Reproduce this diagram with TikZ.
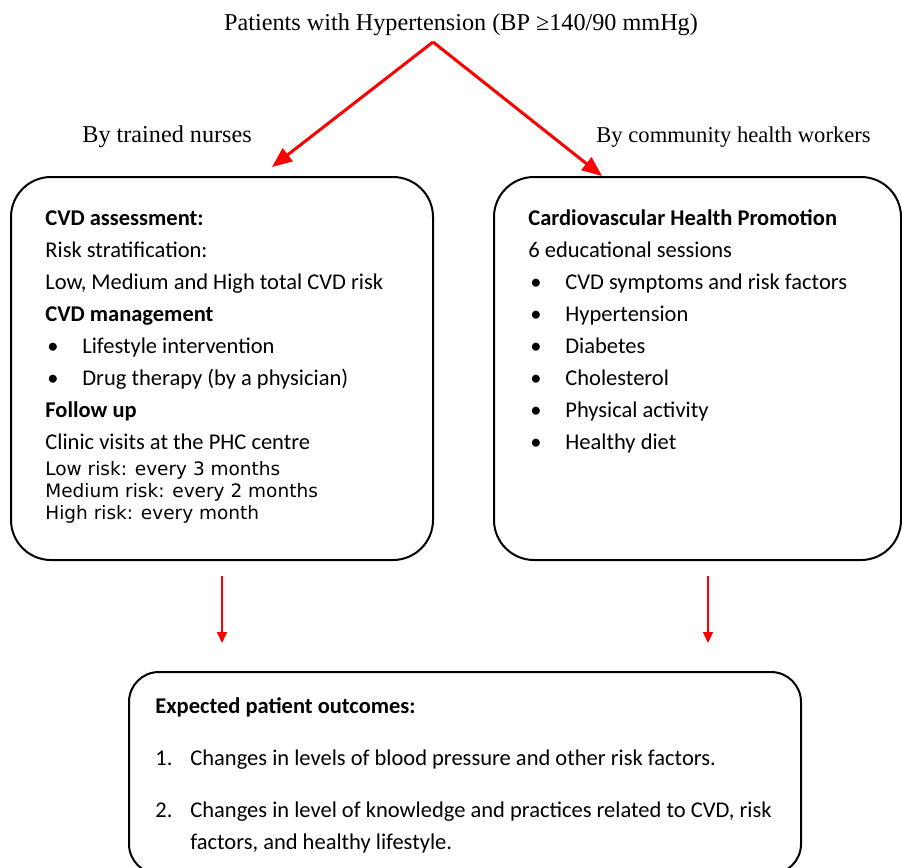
\documentclass[tikz,border=0pt]{standalone}
\usepackage{fontspec}
\setmainfont{Carlito}
\newfontfamily\serifface{Liberation Serif}
\newfontfamily\verdface{DejaVu Sans}
\usetikzlibrary{arrows.meta}
\newcommand\itemdot{\makebox[18.5pt][l]{\hspace{1pt}\textbullet}}
\newcommand\itemnum[1]{\makebox[17.5pt][l]{#1}}
\begin{document}
\begin{tikzpicture}[
  x=0.5pt,y=-0.5pt,
  panel/.style={draw,line width=1pt,rounded corners=20pt,inner sep=0pt},
  body/.style={anchor=north west,align=left,inner sep=0pt,
    font=\fontsize{11.25}{16}\selectfont},
  small/.style={anchor=north west,align=left,inner sep=0pt,
    font=\verdface\fontsize{9.25}{11}\selectfont},
  heading/.style={anchor=base,font=\serifface\fontsize{12.1}{14}\selectfont,inner sep=0pt},
  bigflow/.style={-{Triangle[length=10pt,width=8pt]},red,line width=1.5pt},
  flow/.style={-{Triangle[length=5.5pt,width=5pt]},red,line width=0.8pt}
]
\useasboundingbox (0,0) rectangle (902,868);

\node[heading] (patients) at (461,30)
  {Patients with Hypertension (BP ≥140/90 mmHg)};
\node[heading,anchor=base west] (nurses) at (82,142) {By trained nurses};
\node[heading,anchor=base west,font=\serifface\fontsize{11.3}{14}\selectfont]
  (workers) at (596,142) {By community health workers};

% the three boxes
\node[panel,minimum width=211pt,minimum height=191.5pt] (nurseBox) at (222,368.5) {};
\node[panel,minimum width=203.5pt,minimum height=191.5pt] (workerBox) at (697.5,368.5) {};
\node[panel,rounded corners=15pt,minimum width=336pt,minimum height=101pt] (outcomeBox) at (465,773) {};

\node[body] (assess) at (45,210)
  {\textbf{CVD assessment:}\\
   Risk stratification:\\
   Low, Medium and High total CVD risk\\
   \textbf{CVD management}\\
   \itemdot Lifestyle intervention\\
   \itemdot Drug therapy (by a physician)\\
   \textbf{Follow up}\\
   Clinic visits at the PHC centre};
\node[small] (visits) at (45,461)
  {Low risk: every 3 months\\
   Medium risk: every 2 months\\
   High risk: every month};

\node[body] (promotion) at (528,209)
  {\textbf{Cardiovascular Health Promotion}\\
   6 educational sessions\\
   \itemdot CVD symptoms and risk factors\\
   \itemdot Hypertension\\
   \itemdot Diabetes\\
   \itemdot Cholesterol\\
   \itemdot Physical activity\\
   \itemdot Healthy diet};

\node[body] (outcomes) at (155,697)
  {\textbf{Expected patient outcomes:}\\[10pt]
   \itemnum{1.}Changes in levels of blood pressure and other risk factors.\\[10pt]
   \itemnum{2.}Changes in level of knowledge and practices related to CVD, risk\\
   \itemnum{}factors, and healthy lifestyle.};

\coordinate (apex) at (433,42);
\coordinate (nurseTip) at (272,167);
\coordinate (workerTip) at (602,176);
\coordinate (nurseOut) at (222,576);
\coordinate (nurseIn) at (222,643);
\coordinate (workerOut) at (708,576);
\coordinate (workerIn) at (708,643);

\draw[bigflow] (apex) -- (nurseTip);
\draw[bigflow] (apex) -- (workerTip);
\draw[flow] (nurseOut) -- (nurseIn);
\draw[flow] (workerOut) -- (workerIn);
\end{tikzpicture}
\end{document}
